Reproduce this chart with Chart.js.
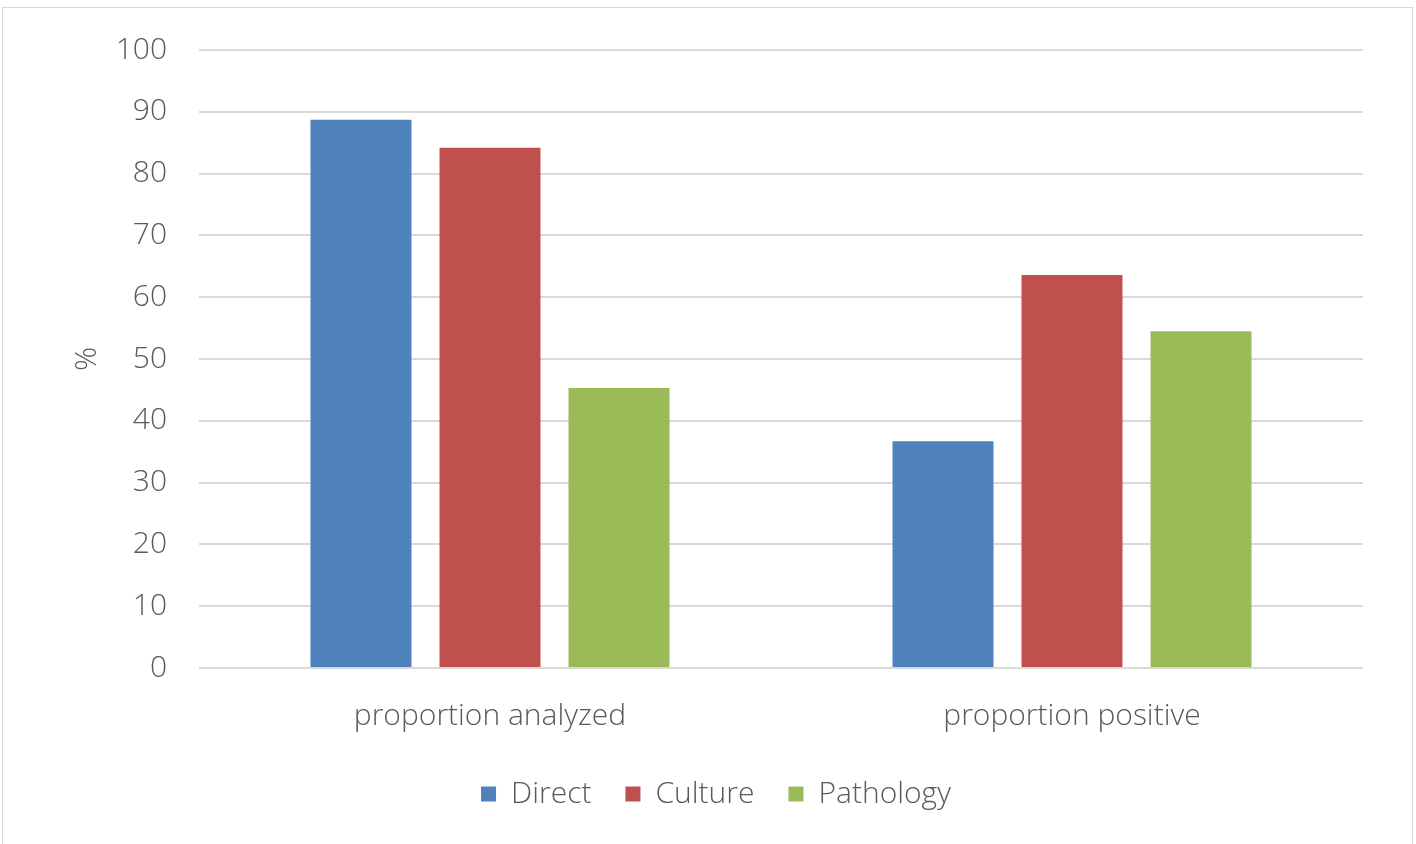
<!DOCTYPE html>
<html>
<head>
<meta charset="utf-8">
<script src="https://cdn.jsdelivr.net/npm/chart.js@4"></script>
<style>
  html, body { margin: 0; padding: 0; background: #fff; }
  #frame { position: absolute; left: 2px; top: 7px; width: 1409px; height: 850px; border: 1px solid #d9d9d9; }
  #wrap { position: absolute; left: 0; top: 0; width: 1416px; height: 844px; }
</style>
</head>
<body>
<div id="frame"></div>
<div id="wrap"><canvas id="myChart"></canvas></div>
<script>
// chart data
const categories = ["proportion analyzed", "proportion positive"];
const seriesNames = ["Direct", "Culture", "Pathology"];
const directValues = [88.7, 36.7];
const cultureValues = [84.2, 63.6];
const pathologyValues = [45.3, 54.5];
const yTicks = [0, 10, 20, 30, 40, 50, 60, 70, 80, 90, 100];

const colors = ["#4F81BD", "#C0504D", "#9BBB59"];
const textColor = "#595959";
const fontFamily = "'Open Sans', sans-serif";
const font = { family: fontFamily, size: 30, weight: 300 };

const ctx = document.getElementById("myChart").getContext("2d");

const chart = new Chart(ctx, {
    type: "bar",
    data: {
        labels: categories,
        datasets: [directValues, cultureValues, pathologyValues].map((vals, i) => ({
            label: seriesNames[i],
            data: vals,
            backgroundColor: colors[i],
            borderWidth: 0,
            categoryPercentage: 0.665,
            barPercentage: 0.783
        }))
    },
    options: {
        responsive: true,
        maintainAspectRatio: false,
        animation: false,
        layout: { padding: { left: 69, right: 53, top: 49, bottom: 25 } },
        plugins: {
            tooltip: { enabled: false },
            legend: {
                position: "bottom",
                labels: {
                    color: textColor,
                    font: font,
                    boxWidth: 15,
                    boxHeight: 15,
                    padding: 34
                }
            }
        },
        scales: {
            y: {
                min: 0,
                max: 100,
                afterFit: scale => { scale.width = 130; },
                afterBuildTicks: scale => { scale.ticks = yTicks.map(v => ({ value: v })); },
                border: { display: false },
                grid: { color: "#d9d9d9", lineWidth: 2, drawTicks: false },
                ticks: { color: textColor, padding: 32, font: font },
                title: { display: true, text: "%", color: textColor, padding: 0, font: font }
            },
            x: {
                afterFit: scale => { scale.height = 77; },
                border: { display: false },
                grid: { display: false, drawTicks: false },
                ticks: { color: textColor, padding: 30, font: font }
            }
        }
    }
});
</script>
</body>
</html>
